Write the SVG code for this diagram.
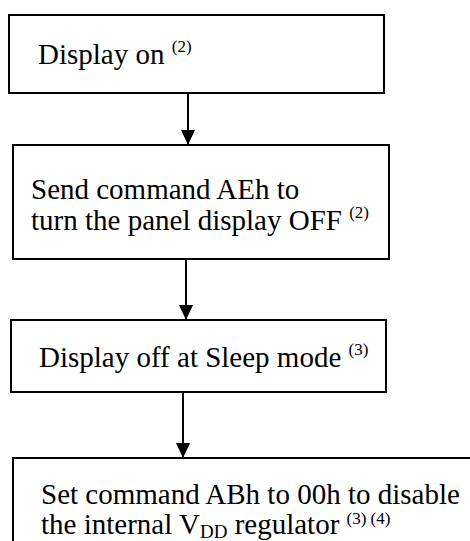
<svg xmlns="http://www.w3.org/2000/svg" width="470" height="541" viewBox="0 0 470 541">
<style>
.box{fill:#fff;stroke:#000;stroke-width:2}
.t{font-family:"Liberation Serif","Times New Roman",serif;font-size:29px;fill:#000}
.sup{font-size:17px}
.sub{font-size:19px}
.c{stroke:#000;stroke-width:2;fill:none}
</style>
<defs>
<marker id="ah" markerWidth="15" markerHeight="14" refX="15" refY="7" orient="auto" markerUnits="userSpaceOnUse" viewBox="0 0 15 14">
<path d="M0,0 L15,7 L0,14 Z" fill="#000"/>
</marker>
</defs>
<g id="connectors">
<line class="c" x1="188" y1="93" x2="188" y2="145" marker-end="url(#ah)"/>
<line class="c" x1="186" y1="259" x2="186" y2="320" marker-end="url(#ah)"/>
<line class="c" x1="183" y1="392" x2="183" y2="458" marker-end="url(#ah)"/>
</g>
<g id="n1">
<rect class="box" x="9" y="15" width="375" height="78"/>
<text class="t" x="38" y="64">Display on <tspan class="sup" dy="-12">(2)</tspan></text>
</g>
<g id="n2">
<rect class="box" x="13" y="145" width="376" height="114"/>
<text class="t" x="31" y="199">Send command AEh to</text>
<text class="t" x="31" y="230">turn the panel display OFF <tspan class="sup" dy="-12">(2)</tspan></text>
</g>
<g id="n3">
<rect class="box" x="11" y="320" width="375" height="72"/>
<text class="t" x="39" y="367">Display off at Sleep mode <tspan class="sup" dy="-12">(3)</tspan></text>
</g>
<g id="n4">
<rect class="box" x="13" y="458" width="470" height="100"/>
<text class="t" x="41" y="504">Set command ABh to 00h to disable</text>
<text class="t" x="41" y="534">the internal V<tspan class="sub" dy="4">DD</tspan><tspan dy="-4"> regulator </tspan><tspan class="sup" dy="-10">(3) (4)</tspan></text>
</g>
</svg>
